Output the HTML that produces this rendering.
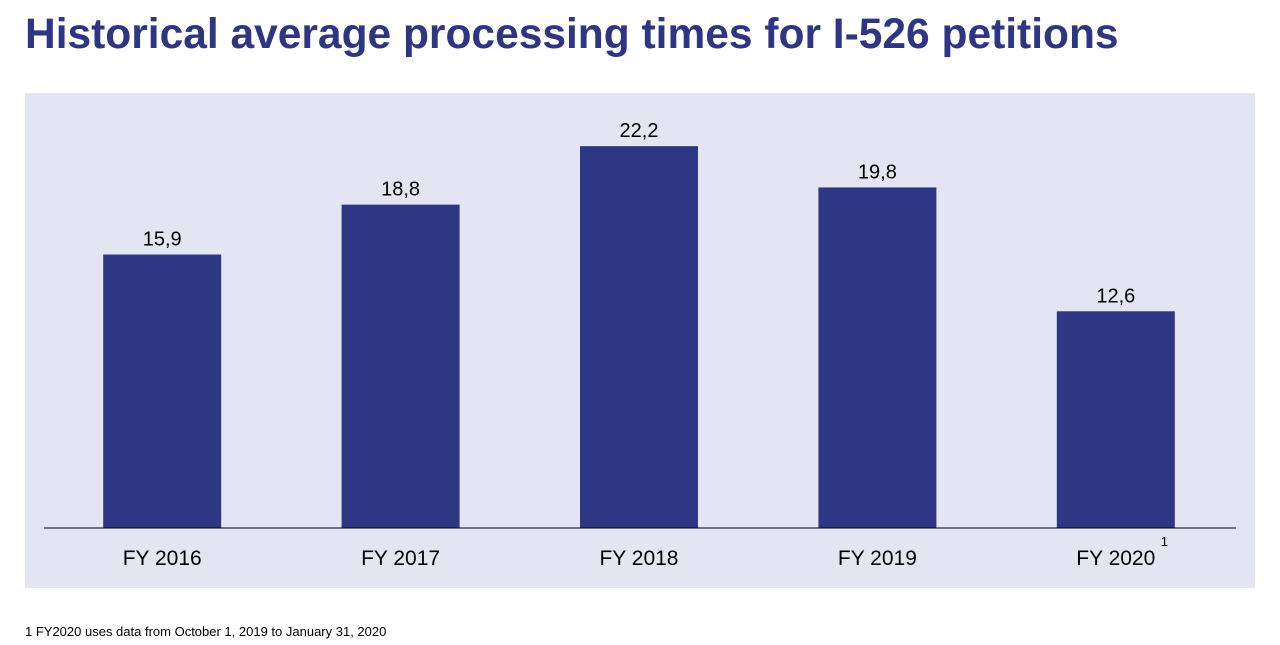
<!DOCTYPE html>
<html><head><meta charset="utf-8"><style>
body{margin:0;width:1280px;height:645px;background:#fff;font-family:"Liberation Sans",sans-serif;overflow:hidden;position:relative}
#title{position:absolute;left:25px;top:11px;font-size:42.5px;font-weight:bold;color:#2E3582;margin:0;white-space:nowrap}
#foot{position:absolute;left:25px;top:624px;font-size:13px;color:#000}
svg{position:absolute;left:0;top:0}
</style></head><body>
<h1 id="title">Historical average processing times for I-526 petitions</h1>
<svg id="chart" width="1280" height="645">
<rect x="25" y="93" width="1230" height="495" fill="#E3E6F2"/>
</svg>
<div id="foot">1 FY2020 uses data from October 1, 2019 to January 31, 2020</div>
<script>
const categories=["FY 2016","FY 2017","FY 2018","FY 2019","FY 2020"];
const values=[15.9,18.8,22.2,19.8,12.6];
const valueLabels=["15,9","18,8","22,2","19,8","12,6"];
const svg=document.getElementById('chart');
const NS="http://www.w3.org/2000/svg";
const x0=44,x1=1236,baseY=528,pxPerUnit=17.2;
const slot=(x1-x0)/categories.length,barW=118;
const xScale=i=>x0+slot*(i+0.5)-1;
const yScale=v=>baseY-v*pxPerUnit;
function mk(tag,attrs){const e=document.createElementNS(NS,tag);for(const k in attrs)e.setAttribute(k,attrs[k]);svg.appendChild(e);return e;}
values.forEach((v,i)=>{
 const cx=xScale(i);
 const r=mk('rect',{x:cx-barW/2,y:yScale(v),width:barW,height:baseY-yScale(v),fill:'#2E3784'});
 
 
 const t=mk('text',{x:cx,y:yScale(v)-9,'text-anchor':'middle','font-size':'20','font-family':'Liberation Sans, sans-serif',fill:'#000'});
 t.textContent=valueLabels[i];
 
 
 const c=mk('text',{x:cx,y:565,'text-anchor':'middle','font-size':'21','font-family':'Liberation Sans, sans-serif',fill:'#000'});
 c.textContent=categories[i];
 
 
});
const ax=mk('line',{x1:x0,x2:x1,y1:baseY,y2:baseY,stroke:'#000','stroke-width':1});


const sup=mk('text',{x:xScale(4)+45,y:546,'font-size':'13','font-family':'Liberation Sans, sans-serif',fill:'#000'});
sup.textContent='1';


</script>
</body></html>
